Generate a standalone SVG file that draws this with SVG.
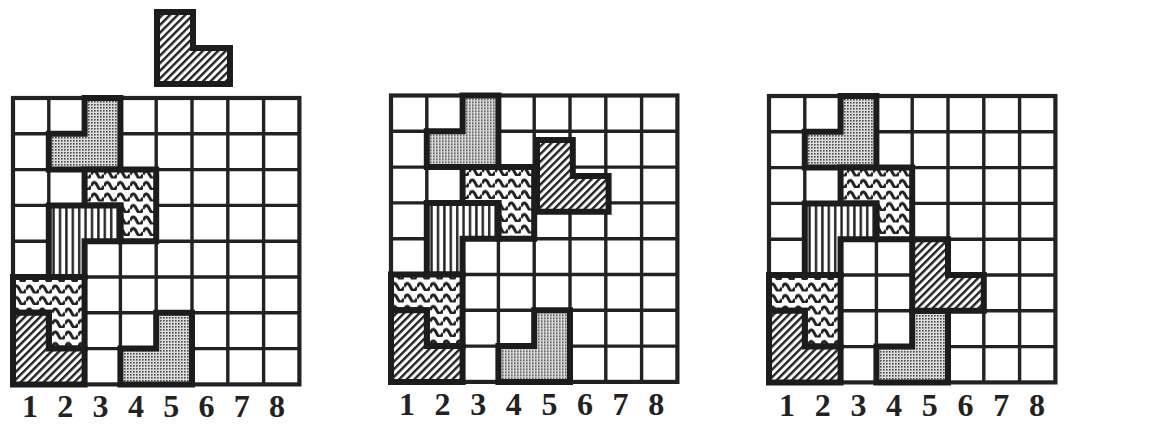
<svg xmlns="http://www.w3.org/2000/svg" xmlns:xlink="http://www.w3.org/1999/xlink" width="1160" height="425" viewBox="0 0 1160 425">
<style>
.grid{fill:none;stroke:#222;stroke-width:3.4}
.border{fill:#fff;stroke:#222;stroke-width:4.2}
.piece{stroke:#1c1c1c;stroke-width:6;stroke-linejoin:miter}
.num{font-family:"Liberation Serif",serif;font-weight:bold;font-size:32px;fill:#222;text-anchor:middle}
</style>
<defs>
<pattern id="dots" width="3" height="3" patternUnits="userSpaceOnUse">
<rect width="3" height="3" fill="#dcdcdc"/><rect width="1.6" height="1.6" fill="#4a4a4a"/>
</pattern>
<pattern id="diag" width="5.4" height="6" patternUnits="userSpaceOnUse" patternTransform="rotate(45)">
<rect width="5.4" height="6" fill="#fff"/><rect width="2.4" height="6" fill="#222"/>
</pattern>
<pattern id="vert" width="6.4" height="10" patternUnits="userSpaceOnUse">
<rect width="6.4" height="10" fill="#fff"/><rect x="1" width="2.4" height="10" fill="#222"/>
</pattern>
<pattern id="wave" width="13" height="11.5" patternUnits="userSpaceOnUse">
<rect width="13" height="11.5" fill="#fff"/>
<path d="M0 7.5 Q3.25 0.5 6.5 7.5 T13 7.5" fill="none" stroke="#222" stroke-width="3"/>
</pattern>
<g id="board">
<rect class="border" x="0" y="0" width="286.4" height="286.4"/>
<path class="grid" d="M35.8 0V286.4M71.6 0V286.4M107.4 0V286.4M143.2 0V286.4M179 0V286.4M214.8 0V286.4M250.6 0V286.4M0 35.8H286.4M0 71.6H286.4M0 107.4H286.4M0 143.2H286.4M0 179H286.4M0 214.8H286.4M0 250.6H286.4"/>
</g>
<g id="placed">
<polygon class="piece" fill="url(#dots)" points="71.6,0 107.4,0 107.4,71.6 35.8,71.6 35.8,35.8 71.6,35.8"/>
<polygon class="piece" fill="url(#wave)" points="71.6,71.6 143.2,71.6 143.2,143.2 107.4,143.2 107.4,107.4 71.6,107.4"/>
<polygon class="piece" fill="url(#vert)" points="35.8,107.4 107.4,107.4 107.4,143.2 71.6,143.2 71.6,179 35.8,179"/>
<polygon class="piece" fill="url(#wave)" points="0,179 71.6,179 71.6,250.6 35.8,250.6 35.8,214.8 0,214.8"/>
<polygon class="piece" fill="url(#diag)" points="0,214.8 35.8,214.8 35.8,250.6 71.6,250.6 71.6,286.4 0,286.4"/>
<polygon class="piece" fill="url(#dots)" points="143.2,214.8 179,214.8 179,286.4 107.4,286.4 107.4,250.6 143.2,250.6"/>
</g>
</defs>
<rect width="1160" height="425" fill="#fff"/>

<g id="new-piece">
<polygon class="piece" fill="url(#diag)" stroke-width="6.5" points="157,12 193,12 193,48 230,48 230,84 157,84"/>
</g>

<g id="board1" transform="translate(13,98)">
<use href="#board" xlink:href="#board"/>
<use href="#placed" xlink:href="#placed"/>
</g>
<g id="labels1" class="num">
<text x="30" y="417">1</text><text x="65.3" y="417">2</text><text x="100.6" y="417">3</text><text x="135.9" y="417">4</text><text x="171.2" y="417">5</text><text x="206.5" y="417">6</text><text x="241.8" y="417">7</text><text x="277.1" y="417">8</text>
</g>

<g id="board2" transform="translate(391,95.5)">
<use href="#board" xlink:href="#board"/>
<use href="#placed" xlink:href="#placed"/>
<polygon id="falling-piece" class="piece" fill="url(#diag)" points="146,44.6 181.8,44.6 181.8,80.4 217.6,80.4 217.6,116.2 146,116.2"/>
</g>
<g id="labels2" class="num">
<text x="407" y="415">1</text><text x="442.6" y="415">2</text><text x="478.2" y="415">3</text><text x="513.8" y="415">4</text><text x="549.4" y="415">5</text><text x="585" y="415">6</text><text x="620.6" y="415">7</text><text x="656.2" y="415">8</text>
</g>

<g id="board3" transform="translate(769,96)">
<use href="#board" xlink:href="#board"/>
<use href="#placed" xlink:href="#placed"/>
<polygon id="landed-piece" class="piece" fill="url(#diag)" points="143.2,143.2 179,143.2 179,179 214.8,179 214.8,214.8 143.2,214.8"/>
</g>
<g id="labels3" class="num">
<text x="787" y="416">1</text><text x="822.7" y="416">2</text><text x="858.4" y="416">3</text><text x="894.1" y="416">4</text><text x="929.8" y="416">5</text><text x="965.5" y="416">6</text><text x="1001.2" y="416">7</text><text x="1036.9" y="416">8</text>
</g>
</svg>
